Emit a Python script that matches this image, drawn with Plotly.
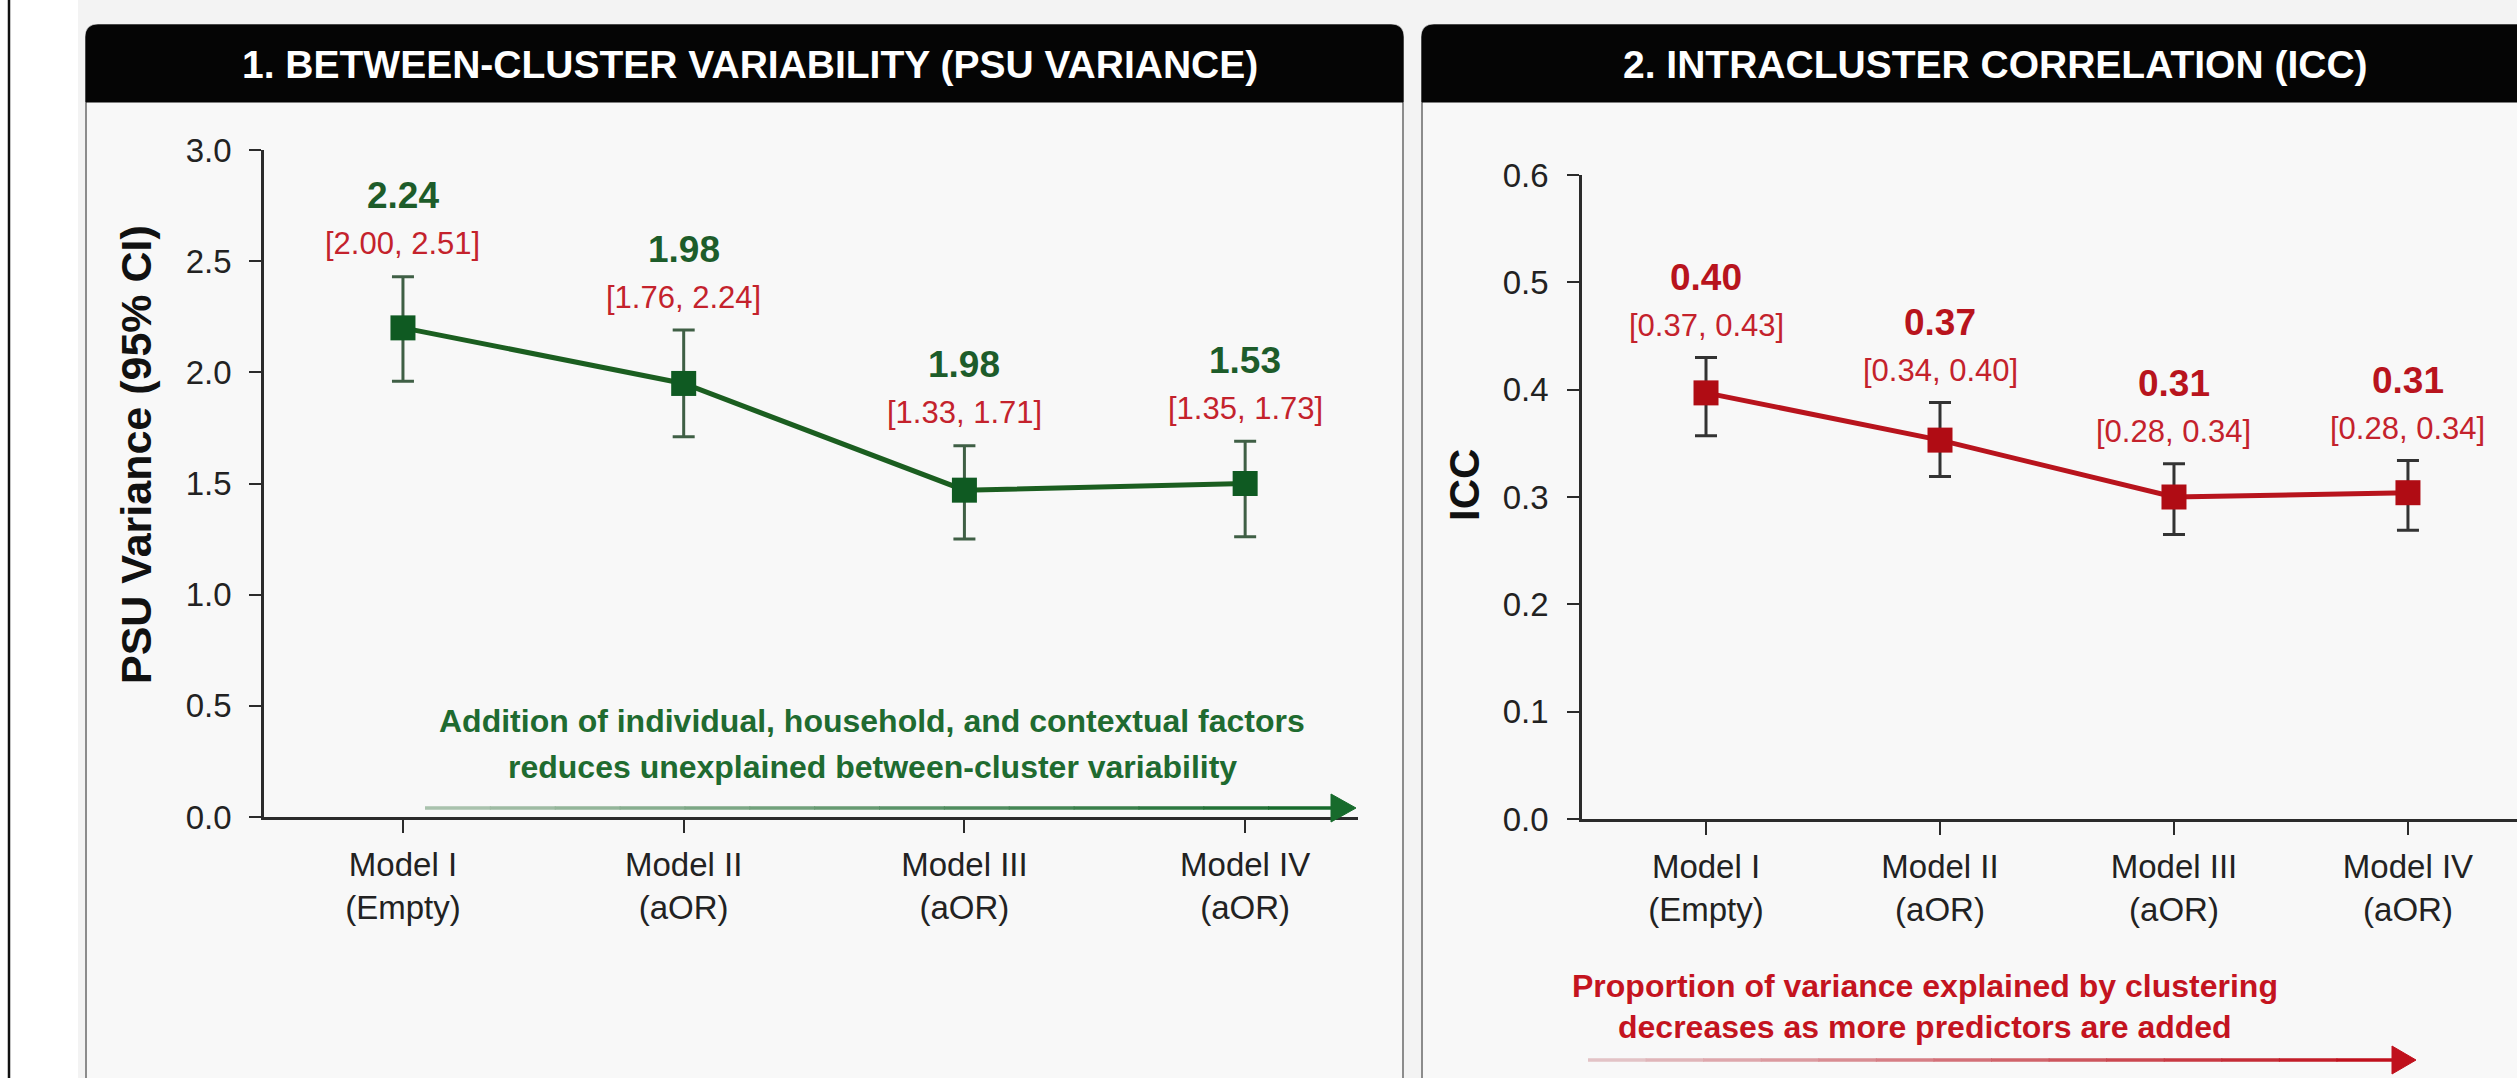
import plotly.graph_objects as go

W, H = 2517, 1078

# ---------------- data ----------------
models = ["Model I<br>(Empty)", "Model II<br>(aOR)", "Model III<br>(aOR)", "Model IV<br>(aOR)"]
xpos = [0, 1, 2, 3]

psu_est = [2.20, 1.95, 1.47, 1.50]
psu_lo = [1.96, 1.71, 1.25, 1.26]
psu_hi = [2.43, 2.19, 1.67, 1.69]
psu_label = ["2.24", "1.98", "1.98", "1.53"]
psu_ci_label = ["[2.00, 2.51]", "[1.76, 2.24]", "[1.33, 1.71]", "[1.35, 1.73]"]

icc_est = [0.397, 0.353, 0.300, 0.304]
icc_lo = [0.357, 0.319, 0.265, 0.269]
icc_hi = [0.430, 0.388, 0.331, 0.334]
icc_label = ["0.40", "0.37", "0.31", "0.31"]
icc_ci_label = ["[0.37, 0.43]", "[0.34, 0.40]", "[0.28, 0.34]", "[0.28, 0.34]"]

psu_ticks = [0.0, 0.5, 1.0, 1.5, 2.0, 2.5, 3.0]
icc_ticks = [0.0, 0.1, 0.2, 0.3, 0.4, 0.5, 0.6]

title_left = "1. BETWEEN-CLUSTER VARIABILITY (PSU VARIANCE)"
title_right = "2. INTRACLUSTER CORRELATION (ICC)"
note_left = ["Addition of individual, household, and contextual factors",
             "reduces unexplained between-cluster variability"]
note_right = ["Proportion of variance explained by clustering",
              "decreases as more predictors are added"]

FONT = "Liberation Sans, Arial, sans-serif"
GREEN = "#1b5e20"
GREEN_TXT = "#1d5c2a"
RED = "#b8141d"
RED_TXT = "#c4222c"


def px(x):
    return x / W


def py(y):
    return 1 - y / H


fig = go.Figure()

fig.add_trace(go.Scatter(
    x=xpos, y=psu_est, mode="lines+markers", xaxis="x", yaxis="y",
    line=dict(color=GREEN, width=5),
    marker=dict(symbol="square", size=25, color="#0f5a22"),
    error_y=dict(type="data", symmetric=False,
                 array=[h - e for h, e in zip(psu_hi, psu_est)],
                 arrayminus=[e - l for e, l in zip(psu_est, psu_lo)],
                 color="#3f5f45", thickness=3, width=11),
    showlegend=False, hoverinfo="skip"))

fig.add_trace(go.Scatter(
    x=xpos, y=icc_est, mode="lines+markers", xaxis="x2", yaxis="y2",
    line=dict(color=RED, width=5),
    marker=dict(symbol="square", size=25, color="#b00c14"),
    error_y=dict(type="data", symmetric=False,
                 array=[h - e for h, e in zip(icc_hi, icc_est)],
                 arrayminus=[e - l for e, l in zip(icc_est, icc_lo)],
                 color="#333333", thickness=3, width=11),
    showlegend=False, hoverinfo="skip"))

axis_common = dict(showline=True, linecolor="#2b2b2b", linewidth=2.5, ticks="outside",
                   tickcolor="#2b2b2b", tickwidth=2, showgrid=False, zeroline=False,
                   automargin=False)
yfont = dict(family=FONT, size=33, color="#222222")
xfont = dict(family=FONT, size=33, color="#222222")

fig.update_layout(
    template="none",
    width=W, height=H, margin=dict(l=0, r=0, t=0, b=0, pad=0, autoexpand=False),
    autosize=False,
    paper_bgcolor="white", plot_bgcolor="rgba(0,0,0,0)",
    font=dict(family=FONT),
    showlegend=False,
    xaxis=dict(domain=[px(264), px(1358)], range=[-0.495, 3.402], tickvals=xpos,
               ticktext=models, ticklen=13, anchor="y", ticklabelstandoff=4,
               tickfont=xfont, **axis_common),
    yaxis=dict(domain=[py(817), py(150)], range=[0, 3.0], tickvals=psu_ticks,
               tickformat=".1f", ticklen=12, anchor="x", ticklabelstandoff=11,
               tickfont=yfont, **axis_common),
    xaxis2=dict(domain=[px(1582), 1.0], range=[-0.53, 3.466], tickvals=xpos,
                ticktext=models, ticklen=13, anchor="y2", ticklabelstandoff=4,
                tickfont=xfont, **axis_common),
    yaxis2=dict(domain=[py(819), py(175)], range=[0, 0.6], tickvals=icc_ticks,
                tickformat=".1f", ticklen=12, anchor="x2", ticklabelstandoff=12,
                tickfont=yfont, **axis_common),
)


def rounded_top(x0, y0, x1, y1, r):
    return (f"M {px(x0)},{py(y1)} L {px(x0)},{py(y0 + r)} "
            f"Q {px(x0)},{py(y0)} {px(x0 + r)},{py(y0)} "
            f"L {px(x1 - r)},{py(y0)} Q {px(x1)},{py(y0)} {px(x1)},{py(y0 + r)} "
            f"L {px(x1)},{py(y1)} Z")


shapes = []
# page background
shapes.append(dict(type="rect", xref="paper", yref="paper", x0=px(78), x1=1, y0=0, y1=1,
                   fillcolor="#f3f3f3", line=dict(width=0), layer="below"))
shapes.append(dict(type="line", xref="paper", yref="paper", x0=px(9), x1=px(9), y0=0, y1=1,
                   line=dict(color="#111111", width=2.5), layer="below"))
# cards
for (x0, x1) in [(86, 1403), (1422, 2560)]:
    shapes.append(dict(type="path", xref="paper", yref="paper",
                       path=rounded_top(x0, 25, x1, 1100, 12),
                       fillcolor="#f8f8f8", line=dict(color="#8c8c8c", width=2), layer="below"))
    shapes.append(dict(type="path", xref="paper", yref="paper",
                       path=rounded_top(x0, 25, x1, 102, 12),
                       fillcolor="#050505", line=dict(color="#050505", width=1), layer="below"))


def hex2rgb(h):
    h = h.lstrip("#")
    return tuple(int(h[i:i + 2], 16) for i in (0, 2, 4))


def gradient_arrow(x0, x1, y, c0, c1, head_len, head_h, n=14):
    a, b = hex2rgb(c0), hex2rgb(c1)
    seg = (x1 - x0) / n
    out = []
    for i in range(n):
        t = i / (n - 1)
        col = "rgb(%d,%d,%d)" % tuple(round(a[k] + (b[k] - a[k]) * t) for k in range(3))
        out.append(dict(type="line", xref="paper", yref="paper",
                        x0=px(x0 + i * seg), x1=px(x0 + (i + 1) * seg + 1),
                        y0=py(y), y1=py(y), line=dict(color=col, width=3.5)))
    out.append(dict(type="path", xref="paper", yref="paper",
                    path=(f"M {px(x1 - 2)},{py(y - head_h / 2)} L {px(x1 - 2 + head_len)},{py(y)} "
                          f"L {px(x1 - 2)},{py(y + head_h / 2)} Z"),
                    fillcolor=c1, line=dict(color=c1, width=1)))
    return out


shapes += gradient_arrow(425, 1333, 808, "#a9c2ad", "#176b2c", 25, 28)
shapes += gradient_arrow(1588, 2394, 1060, "#e3c3c6", "#c0101c", 24, 28)
fig.update_layout(shapes=shapes)

ann = []


def txt(x, y, text, size, color, **kw):
    d = dict(xref="paper", yref="paper", x=px(x), y=py(y), text=text, showarrow=False,
             xanchor="center", yanchor="middle", font=dict(family=FONT, size=size, color=color))
    d.update(kw)
    return d


# headers
ann.append(txt(750, 64, f"<b>{title_left}</b>", 39, "white"))
ann.append(txt(1995, 64, f"<b>{title_right}</b>", 39, "white"))
# y-axis titles
ann.append(txt(136, 455, "<b>PSU Variance (95% CI)</b>", 43, "#111111", textangle=-90))
ann.append(txt(1464, 485, "<b>ICC</b>", 42, "#111111", textangle=-90))
# value labels
for i in xpos:
    ann.append(dict(xref="x", yref="y", x=i, y=psu_hi[i], yshift=81, text=f"<b>{psu_label[i]}</b>",
                    showarrow=False, xanchor="center", yanchor="middle",
                    font=dict(family=FONT, size=37, color=GREEN_TXT)))
    ann.append(dict(xref="x", yref="y", x=i, y=psu_hi[i], yshift=33, text=psu_ci_label[i],
                    showarrow=False, xanchor="center", yanchor="middle",
                    font=dict(family=FONT, size=31, color=RED_TXT)))
    ann.append(dict(xref="x2", yref="y2", x=i, y=icc_hi[i], yshift=80, text=f"<b>{icc_label[i]}</b>",
                    showarrow=False, xanchor="center", yanchor="middle",
                    font=dict(family=FONT, size=37, color=RED)))
    ann.append(dict(xref="x2", yref="y2", x=i, y=icc_hi[i], yshift=32, text=icc_ci_label[i],
                    showarrow=False, xanchor="center", yanchor="middle",
                    font=dict(family=FONT, size=31, color=RED_TXT)))
# notes
for line, ypix in zip(note_left, [721, 767]):
    ann.append(txt(872, ypix, f"<b>{line}</b>", 32, "#1f6b30"))
for line, ypix in zip(note_right, [986, 1027]):
    ann.append(txt(1925, ypix, f"<b>{line}</b>", 32, "#c4141f"))

fig.update_layout(annotations=ann)

fig.write_html("out.html", config={"displayModeBar": False},
               post_script="document.body.style.margin='0';document.body.style.overflow='hidden';")
